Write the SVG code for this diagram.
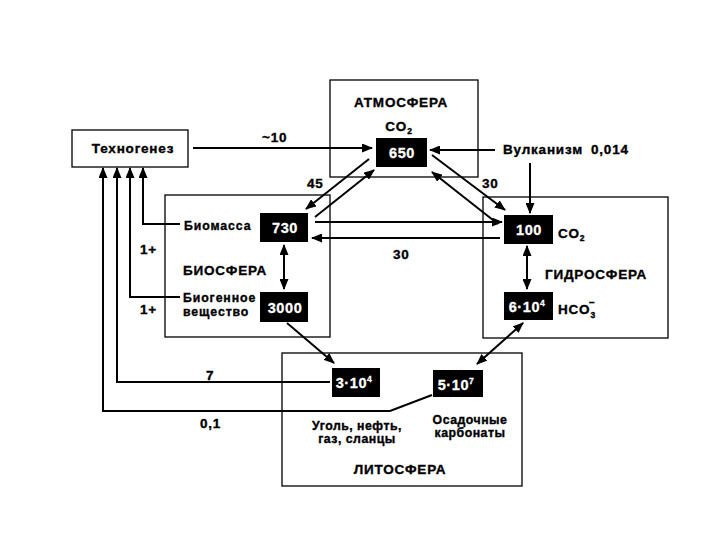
<svg xmlns="http://www.w3.org/2000/svg" width="720" height="540" viewBox="0 0 720 540">
<defs>
<marker id="ah" markerWidth="11" markerHeight="9" refX="10" refY="4.5" orient="auto-start-reverse" markerUnits="userSpaceOnUse">
<path d="M0,0 L11,4.5 L0,9 z" fill="#000"/>
</marker>
<style>
.frame{fill:#fff;stroke:#000;stroke-width:1.3}
.blk{fill:#000}
.t{font-family:"Liberation Sans",Arial,sans-serif;font-weight:bold;fill:#000;stroke:#000;stroke-width:0.35;font-size:12.3px;letter-spacing:0.9px}
.big{font-size:13.5px;letter-spacing:0.8px}
.w{font-family:"Liberation Sans",Arial,sans-serif;font-weight:bold;fill:#fff;stroke:#fff;stroke-width:0.3;font-size:14.5px;letter-spacing:0.6px;text-anchor:middle}
.c{text-anchor:middle}
.ln{fill:none;stroke:#000;stroke-width:2}
.a{marker-end:url(#ah)}
.d{marker-start:url(#ah);marker-end:url(#ah)}
</style>
</defs>
<rect width="720" height="540" fill="#fff"/>

<g id="technogenesis">
<rect class="frame" x="72" y="130" width="116" height="37"/>
<text class="t big c" x="133" y="153">Техногенез</text>
</g>

<g id="atmosphere">
<rect class="frame" x="330" y="80" width="148" height="97"/>
<text class="t big c" x="401" y="107">АТМОСФЕРА</text>
<text class="t big c" x="399" y="131">CO<tspan font-size="8.5" dy="3">2</tspan></text>
<rect class="blk" x="376" y="138" width="51" height="29"/>
<text class="w" x="402" y="158">650</text>
</g>

<g id="volcanism">
<text class="t big" x="503" y="154">Вулканизм</text>
<text class="t big" x="591" y="154">0,014</text>
</g>

<g id="biosphere">
<rect class="frame" x="165" y="195" width="165" height="142"/>
<rect class="blk" x="260" y="213" width="48" height="29"/>
<text class="w" x="285" y="233">730</text>
<rect class="blk" x="260" y="292" width="48" height="30"/>
<text class="w" x="285" y="313">3000</text>
<text class="t" x="184" y="230">Биомасса</text>
<text class="t" x="183" y="302">Биогенное</text>
<text class="t" x="183" y="316">вещество</text>
<text class="t big" x="183" y="275">БИОСФЕРА</text>
</g>

<g id="hydrosphere">
<rect class="frame" x="483" y="197" width="185" height="141"/>
<rect class="blk" x="504" y="215" width="49" height="29"/>
<text class="w" x="529" y="235">100</text>
<rect class="blk" x="504" y="292" width="49" height="28"/>
<text class="w" x="527" y="312">6·10<tspan font-size="8.5" dy="-6">4</tspan></text>
<text class="t big" x="558" y="238">CO<tspan font-size="8.5" dy="3">2</tspan></text>
<text class="t big" x="558" y="314">HCO<tspan font-size="8.5" dy="4">3</tspan><tspan font-size="10" dx="-7" dy="-12">−</tspan></text>
<text class="t big" x="545" y="279">ГИДРОСФЕРА</text>
</g>

<g id="lithosphere">
<rect class="frame" x="282" y="353" width="240" height="133"/>
<rect class="blk" x="332" y="368" width="48" height="29"/>
<text class="w" x="354" y="388">3·10<tspan font-size="8.5" dy="-6">4</tspan></text>
<rect class="blk" x="433" y="370" width="50" height="27"/>
<text class="w" x="456" y="390">5·10<tspan font-size="8.5" dy="-6">7</tspan></text>
<text class="t c" x="357" y="430" style="letter-spacing:0.5px">Уголь, нефть,</text>
<text class="t c" x="357" y="443" style="letter-spacing:0.5px">газ, сланцы</text>
<text class="t c" x="470" y="424" style="letter-spacing:0.5px">Осадочные</text>
<text class="t c" x="470" y="437" style="letter-spacing:0.5px">карбонаты</text>
<text class="t big c" x="400" y="474">ЛИТОСФЕРА</text>
</g>

<g id="connectors">
<line class="ln a" x1="193" y1="148" x2="372" y2="148"/>
<line class="ln a" x1="495" y1="150" x2="430" y2="150"/>
<line class="ln a" x1="530" y1="163" x2="530" y2="213"/>
<line class="ln a" x1="369" y1="159" x2="306" y2="209"/>
<line class="ln a" x1="315" y1="217" x2="374" y2="170"/>
<line class="ln a" x1="432" y1="155" x2="505" y2="210"/>
<line class="ln a" x1="498" y1="224" x2="432" y2="172"/>
<line class="ln a" x1="315" y1="222" x2="502" y2="222"/>
<line class="ln a" x1="500" y1="238" x2="312" y2="238"/>
<line class="ln d" x1="284" y1="245" x2="284" y2="289"/>
<line class="ln d" x1="527" y1="246" x2="527" y2="289"/>
<line class="ln a" x1="287" y1="323" x2="334" y2="363"/>
<line class="ln d" x1="523" y1="323" x2="477" y2="364"/>
<polyline class="ln a" points="180,224 143,224 143,168"/>
<polyline class="ln a" points="180,297 130,297 130,168"/>
<polyline class="ln a" points="330,382 117,382 117,168"/>
<polyline class="ln a" points="432,395 390,411 103,411 103,168"/>
</g>

<g id="labels">
<text class="t big" x="262" y="142">~10</text>
<text class="t big" x="307" y="188">45</text>
<text class="t big" x="482" y="188">30</text>
<text class="t big" x="393" y="259">30</text>
<text class="t big" x="140" y="254">1+</text>
<text class="t big" x="140" y="314">1+</text>
<text class="t big" x="206" y="380">7</text>
<text class="t big" x="200" y="428">0,1</text>
</g>
</svg>
